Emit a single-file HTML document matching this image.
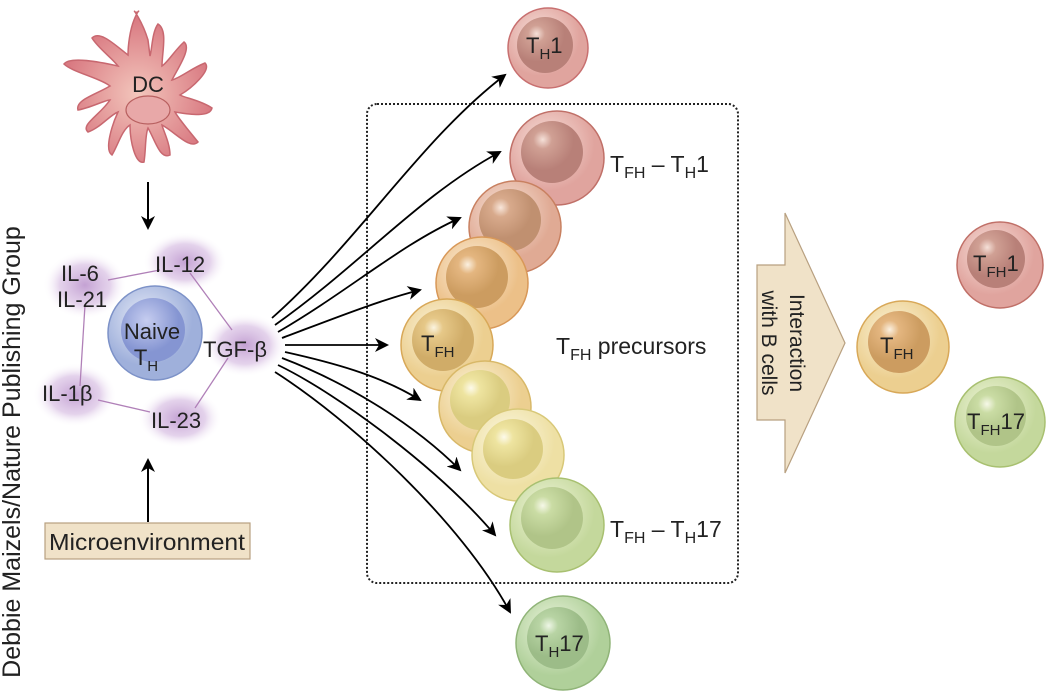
<!DOCTYPE html>
<html><head><meta charset="utf-8"><style>
html,body{margin:0;padding:0;background:#fff;}
svg{display:block;font-family:"Liberation Sans",sans-serif;}
</style></head><body>
<svg width="1050" height="692" viewBox="0 0 1050 692" xmlns="http://www.w3.org/2000/svg">
<defs>
<marker id="ah" markerWidth="14" markerHeight="14" refX="12" refY="7" orient="auto" markerUnits="userSpaceOnUse"><path d="M0,0 L14,7 L0,14 L4,7 z" fill="#000"/></marker>
<radialGradient id="pu"><stop offset="0" stop-color="#b58ac8" stop-opacity=".8"/><stop offset=".6" stop-color="#c9a6d8" stop-opacity=".5"/><stop offset="1" stop-color="#fff" stop-opacity="0"/></radialGradient>
<radialGradient id="dc" cx=".5" cy=".55"><stop offset="0" stop-color="#f3c6bc"/><stop offset="1" stop-color="#d97a82"/></radialGradient>
<radialGradient id="bo" cx=".4" cy=".35"><stop offset="0" stop-color="#e8ecf8"/><stop offset="1" stop-color="#9fb0db"/></radialGradient>
<radialGradient id="bi" cx=".4" cy=".35"><stop offset="0" stop-color="#c6cdf0"/><stop offset="1" stop-color="#8595d2"/></radialGradient>
<radialGradient id="ro" cx=".4" cy=".35"><stop offset="0" stop-color="#f8e2dc"/><stop offset="1" stop-color="#e0a49e"/></radialGradient>
<radialGradient id="ri" cx=".35" cy=".3"><stop offset="0" stop-color="#f5e0d8"/><stop offset=".3" stop-color="#d0a094"/><stop offset="1" stop-color="#b88078"/></radialGradient>
<radialGradient id="ro2" cx=".4" cy=".35"><stop offset="0" stop-color="#f8e6dc"/><stop offset="1" stop-color="#e0aa94"/></radialGradient>
<radialGradient id="ri2" cx=".35" cy=".3"><stop offset="0" stop-color="#f8e6da"/><stop offset=".3" stop-color="#d8aa8c"/><stop offset="1" stop-color="#c09070"/></radialGradient>
<radialGradient id="oo" cx=".4" cy=".35"><stop offset="0" stop-color="#fbeedc"/><stop offset="1" stop-color="#ecc088"/></radialGradient>
<radialGradient id="oi" cx=".35" cy=".3"><stop offset="0" stop-color="#fbf0e0"/><stop offset=".3" stop-color="#e4b680"/><stop offset="1" stop-color="#cc9c60"/></radialGradient>
<radialGradient id="yo" cx=".4" cy=".35"><stop offset="0" stop-color="#fbf4dc"/><stop offset="1" stop-color="#eccf90"/></radialGradient>
<radialGradient id="yi" cx=".35" cy=".3"><stop offset="0" stop-color="#fbf4e0"/><stop offset=".3" stop-color="#e6c888"/><stop offset="1" stop-color="#d0ac68"/></radialGradient>
<radialGradient id="lo" cx=".4" cy=".35"><stop offset="0" stop-color="#fcf8e4"/><stop offset="1" stop-color="#eee0a4"/></radialGradient>
<radialGradient id="li" cx=".35" cy=".3"><stop offset="0" stop-color="#fdfaea"/><stop offset=".3" stop-color="#eee4a0"/><stop offset="1" stop-color="#dacc80"/></radialGradient>
<radialGradient id="go" cx=".4" cy=".35"><stop offset="0" stop-color="#f2f6dc"/><stop offset="1" stop-color="#c4d89c"/></radialGradient>
<radialGradient id="gi" cx=".35" cy=".3"><stop offset="0" stop-color="#f6f8e8"/><stop offset=".3" stop-color="#cadca4"/><stop offset="1" stop-color="#b0c488"/></radialGradient>
<radialGradient id="go2" cx=".4" cy=".35"><stop offset="0" stop-color="#eef6e0"/><stop offset="1" stop-color="#b0d09a"/></radialGradient>
<radialGradient id="gi2" cx=".35" cy=".3"><stop offset="0" stop-color="#eef6e6"/><stop offset=".3" stop-color="#b8d4a4"/><stop offset="1" stop-color="#9cbc88"/></radialGradient>
</defs>

<text transform="translate(20,452) rotate(-90)" text-anchor="middle" font-size="25" fill="#222">Debbie Maizels/Nature Publishing Group</text>

<g fill="url(#dc)" stroke="#c86870" stroke-width="1.5">
<path d="M148,40 C142,20 132,8 135,12 C140,14 140,5 134,20 C130,30 128,45 128,55 C115,45 100,30 92,38 C98,48 112,58 118,66 C100,62 70,56 64,64 C72,72 100,78 110,86 C95,95 75,100 78,110 C90,108 105,100 110,100 C100,115 80,125 88,132 C100,128 110,115 118,112 C112,125 104,150 112,155 C118,145 122,130 130,125 C130,140 135,165 144,162 C146,150 145,135 148,128 C155,140 160,160 170,155 C170,143 163,130 162,125 C175,132 190,150 198,142 C190,132 178,118 175,112 C188,114 210,118 212,108 C200,100 185,98 180,95 C192,88 212,70 205,63 C192,68 180,78 172,80 C178,68 192,48 184,42 C175,50 168,62 162,66 C162,52 168,30 158,24 C152,32 152,50 150,56 Z"/>
</g>
<ellipse cx="148" cy="110" rx="22" ry="14" fill="#e8a8a8" stroke="#b86060" stroke-width="1.2"/>
<text x="148" y="92" text-anchor="middle" font-size="22" fill="#222">DC</text>
<line x1="148" y1="182" x2="148" y2="228" stroke="#000" stroke-width="2" marker-end="url(#ah)"/>

<g fill="url(#pu)">
<ellipse cx="85" cy="285" rx="42" ry="34"/>
<ellipse cx="185" cy="262" rx="42" ry="30"/>
<ellipse cx="245" cy="345" rx="42" ry="32"/>
<ellipse cx="75" cy="395" rx="42" ry="32"/>
<ellipse cx="180" cy="418" rx="42" ry="30"/>
</g>
<g stroke="#b080b8" stroke-width="1.3" fill="none">
<line x1="108" y1="280" x2="160" y2="270"/>
<line x1="190" y1="273" x2="232" y2="330"/>
<line x1="85" y1="305" x2="80" y2="386"/>
<line x1="98" y1="400" x2="150" y2="412"/>
<line x1="195" y1="408" x2="228" y2="358"/>
</g>
<circle cx="155" cy="333" r="47" fill="url(#bo)" stroke="#7d92c8" stroke-width="1.5"/>
<circle cx="153" cy="330" r="32" fill="url(#bi)"/>
<text x="152" y="339" text-anchor="middle" font-size="22" fill="#222">Naive</text>
<text x="146" y="365" text-anchor="middle" font-size="22" fill="#222">T<tspan font-size="15" dy="6">H</tspan></text>
<g font-size="22" fill="#222">
<text x="61" y="281">IL-6</text>
<text x="57" y="307">IL-21</text>
<text x="155" y="272">IL-12</text>
<text x="203" y="357">TGF-β</text>
<text x="42" y="401">IL-1β</text>
<text x="151" y="428">IL-23</text>
</g>
<line x1="148" y1="522" x2="148" y2="460" stroke="#000" stroke-width="2" marker-end="url(#ah)"/>
<rect x="45" y="523" width="205" height="36" fill="#f0e2c8" stroke="#b8a080" stroke-width="1.2"/>
<text x="147" y="550" text-anchor="middle" font-size="23" fill="#222" textLength="196" lengthAdjust="spacingAndGlyphs">Microenvironment</text>

<rect x="367" y="104" width="371" height="479" rx="10" fill="none" stroke="#222" stroke-width="2" stroke-dasharray="2,2"/>

<g stroke="#000" stroke-width="1.8" fill="none" marker-end="url(#ah)">
<path d="M272,318 C360,240 420,140 505,75"/>
<path d="M275,325 C360,265 420,195 500,152"/>
<path d="M278,332 C350,290 400,245 460,218"/>
<path d="M282,338 C330,320 380,300 420,290"/>
<path d="M285,345 L387,345"/>
<path d="M285,352 C330,362 380,375 420,400"/>
<path d="M282,358 C340,380 410,420 460,470"/>
<path d="M278,365 C340,395 440,470 495,535"/>
<path d="M275,372 C350,420 460,520 510,612"/>
</g>

<g>
<circle cx="548" cy="48" r="40" fill="url(#ro)" stroke="#c87070" stroke-width="1.5"/>
<circle cx="545" cy="45" r="28" fill="url(#ri)"/>
<text x="526" y="53" font-size="22" fill="#222">T<tspan font-size="15" dy="6">H</tspan><tspan dy="-6">1</tspan></text>

<circle cx="557" cy="158" r="47" fill="url(#ro)" stroke="#c07068" stroke-width="1.5"/>
<circle cx="552" cy="152" r="31" fill="url(#ri)"/>
<circle cx="515" cy="227" r="46" fill="url(#ro2)" stroke="#c88060" stroke-width="1.5"/>
<circle cx="510" cy="220" r="31" fill="url(#ri2)"/>
<circle cx="482" cy="283" r="46" fill="url(#oo)" stroke="#d89858" stroke-width="1.5"/>
<circle cx="477" cy="277" r="31" fill="url(#oi)"/>
<circle cx="447" cy="345" r="46" fill="url(#yo)" stroke="#d8a858" stroke-width="1.5"/>
<circle cx="443" cy="340" r="31" fill="url(#yi)"/>
<text x="421" y="351" font-size="22" fill="#222">T<tspan font-size="15" dy="6">FH</tspan></text>
<circle cx="485" cy="407" r="46" fill="url(#yo)" stroke="#d8b868" stroke-width="1.5"/>
<circle cx="480" cy="400" r="30" fill="url(#li)"/>
<circle cx="518" cy="455" r="46" fill="url(#lo)" stroke="#d8c878" stroke-width="1.5"/>
<circle cx="513" cy="449" r="30" fill="url(#li)"/>
<circle cx="557" cy="525" r="47" fill="url(#go)" stroke="#a8c070" stroke-width="1.5"/>
<circle cx="552" cy="518" r="31" fill="url(#gi)"/>

<circle cx="563" cy="643" r="47" fill="url(#go2)" stroke="#90b478" stroke-width="1.5"/>
<circle cx="558" cy="638" r="31" fill="url(#gi2)"/>
<text x="535" y="651" font-size="22" fill="#222">T<tspan font-size="15" dy="6">H</tspan><tspan dy="-6">17</tspan></text>
</g>
<g font-size="23" fill="#222">
<text x="610" y="172">T<tspan font-size="16" dy="6">FH</tspan><tspan dy="-6"> – T</tspan><tspan font-size="16" dy="6">H</tspan><tspan dy="-6">1</tspan></text>
<text x="556" y="354">T<tspan font-size="16" dy="6">FH</tspan><tspan dy="-6"> precursors</tspan></text>
<text x="610" y="537">T<tspan font-size="16" dy="6">FH</tspan><tspan dy="-6"> – T</tspan><tspan font-size="16" dy="6">H</tspan><tspan dy="-6">17</tspan></text>
</g>

<path d="M757,265 L785,265 L785,213 L845,343 L785,473 L785,420 L757,420 Z" fill="#f0e2c8" stroke="#b8a080" stroke-width="1.2"/>
<text transform="translate(790,343) rotate(90)" text-anchor="middle" font-size="21" fill="#222">Interaction</text>
<text transform="translate(762,343) rotate(90)" text-anchor="middle" font-size="21" fill="#222">with B cells</text>

<circle cx="1000" cy="265" r="43" fill="url(#ro)" stroke="#c07068" stroke-width="1.5"/>
<circle cx="996" cy="259" r="29" fill="url(#ri)"/>
<text x="973" y="271" font-size="22" fill="#222">T<tspan font-size="15" dy="6">FH</tspan><tspan dy="-6">1</tspan></text>
<circle cx="903" cy="347" r="46" fill="url(#yo)" stroke="#d8a858" stroke-width="1.5"/>
<circle cx="899" cy="342" r="31" fill="url(#oi)"/>
<text x="880" y="353" font-size="22" fill="#222">T<tspan font-size="15" dy="6">FH</tspan></text>
<circle cx="1000" cy="422" r="45" fill="url(#go)" stroke="#a8c070" stroke-width="1.5"/>
<circle cx="996" cy="416" r="30" fill="url(#gi)"/>
<text x="967" y="429" font-size="22" fill="#222">T<tspan font-size="15" dy="6">FH</tspan><tspan dy="-6">17</tspan></text>
</svg>
</body></html>
